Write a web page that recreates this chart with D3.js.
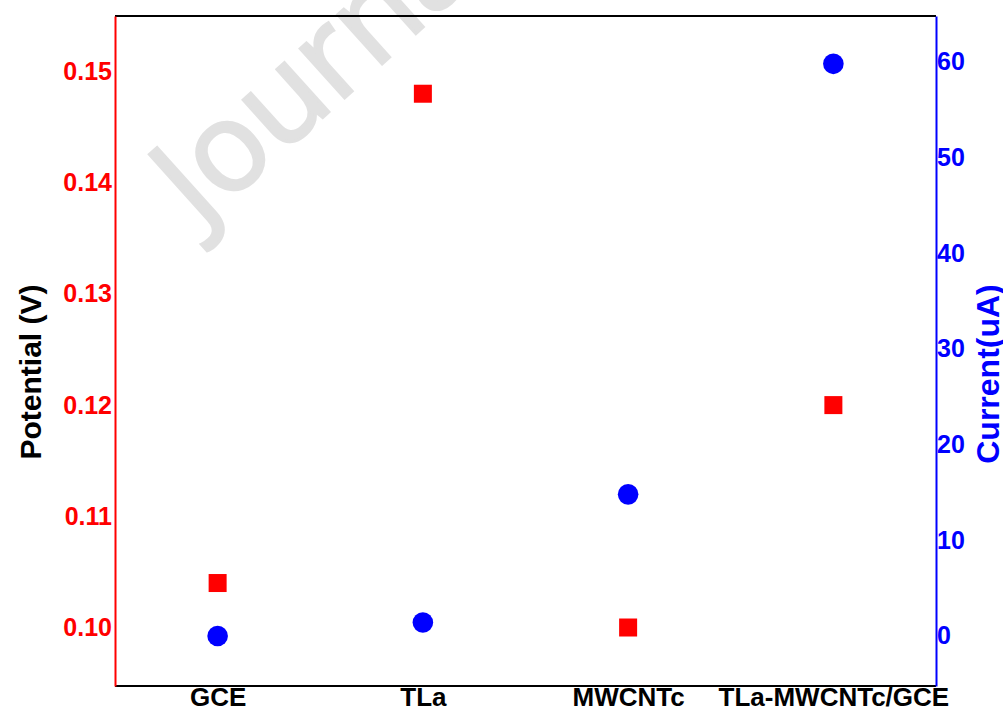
<!DOCTYPE html>
<html>
<head>
<meta charset="utf-8">
<script src="https://cdn.jsdelivr.net/npm/d3@7"></script>
<style>
  body { margin: 0; background: #fff; }
  svg { display: block; font-family: "Liberation Sans", Arial, sans-serif; }
</style>
</head>
<body>
<div id="chart"></div>
<script>
// data
var categories = ["GCE", "TLa", "MWCNTc", "TLa-MWCNTc/GCE"];
var potential = [0.104, 0.148, 0.100, 0.120];
var current = [0.0, 1.4, 14.8, 59.8];
var potentialTicks = [0.10, 0.11, 0.12, 0.13, 0.14, 0.15];
var currentTicks = [0, 10, 20, 30, 40, 50, 60];

var width = 1003, height = 708;
var margin = {top: 16, right: 67, bottom: 22, left: 115};
var w = width - margin.left - margin.right,
    h = height - margin.top - margin.bottom;

var svg = d3.select("#chart").append("svg")
    .attr("width", width)
    .attr("height", height);

// watermark
svg.append("text")
    .attr("transform", "translate(200,228)rotate(-42)")
    .attr("font-family", "'Open Sans', sans-serif")
    .attr("font-size", 124)
    .attr("fill", "#e1e1e1")
    .attr("stroke", "#e1e1e1")
    .attr("stroke-width", 3)
    .text("Journal");

var g = svg.append("g")
    .attr("transform", "translate(" + margin.left + "," + margin.top + ")");

var x = d3.scalePoint().domain(categories).range([0, w]).padding(0.5);
var yL = d3.scaleLinear().domain([0.09474, 0.15499]).range([h, 0]);
var yR = d3.scaleLinear().domain([-5.23, 64.8]).range([h, 0]);

// frame
g.append("line").attr("x1", 0).attr("x2", w).attr("y1", 0).attr("y2", 0)
    .attr("stroke", "#000").attr("stroke-width", 2);
g.append("line").attr("x1", 0).attr("x2", w).attr("y1", h).attr("y2", h)
    .attr("stroke", "#000").attr("stroke-width", 2);

var leftAxis = g.append("g")
    .call(d3.axisLeft(yL).tickValues(potentialTicks).tickSize(0).tickPadding(3).tickFormat(d3.format(".2f")));
leftAxis.select(".domain").attr("stroke", "red").attr("stroke-width", 2);
leftAxis.selectAll("text").attr("fill", "red").attr("font-size", 25).attr("font-weight", "bold")
    .attr("font-family", "'Liberation Sans', Arial, sans-serif");

var rightAxis = g.append("g")
    .attr("transform", "translate(" + w + ",0)")
    .call(d3.axisRight(yR).tickValues(currentTicks).tickSize(0).tickPadding(1));
rightAxis.select(".domain").attr("stroke", "blue").attr("stroke-width", 2);
rightAxis.selectAll("text").attr("fill", "blue").attr("font-size", 25).attr("font-weight", "bold")
    .attr("font-family", "'Liberation Sans', Arial, sans-serif");

var bottomAxis = g.append("g")
    .attr("transform", "translate(0," + h + ")")
    .call(d3.axisBottom(x).tickSize(0).tickPadding(0));
bottomAxis.select(".domain").remove();
bottomAxis.selectAll("text").attr("fill", "#000").attr("font-size", 26).attr("font-weight", "bold")
    .attr("font-family", "'Liberation Sans', Arial, sans-serif")
    .attr("dy", null).attr("y", 20);

// axis titles
svg.append("text")
    .attr("transform", "translate(41,372)rotate(-90)")
    .attr("text-anchor", "middle")
    .attr("font-size", 30).attr("font-weight", "bold").attr("fill", "#000")
    .text("Potential (V)");
svg.append("text")
    .attr("transform", "translate(999,374)rotate(-90)")
    .attr("text-anchor", "middle")
    .attr("font-size", 32).attr("font-weight", "bold").attr("fill", "blue")
    .text("Current(uA)");

// points
var sq = 18;
g.selectAll(".sq").data(potential).enter().append("rect")
    .attr("class", "sq")
    .attr("x", function (d, i) { return x(categories[i]) - sq / 2; })
    .attr("y", function (d) { return yL(d) - sq / 2; })
    .attr("width", sq).attr("height", sq)
    .attr("fill", "red");

g.selectAll(".dot").data(current).enter().append("circle")
    .attr("class", "dot")
    .attr("cx", function (d, i) { return x(categories[i]); })
    .attr("cy", function (d) { return yR(d); })
    .attr("r", 10.3)
    .attr("fill", "blue");
</script>
</body>
</html>
